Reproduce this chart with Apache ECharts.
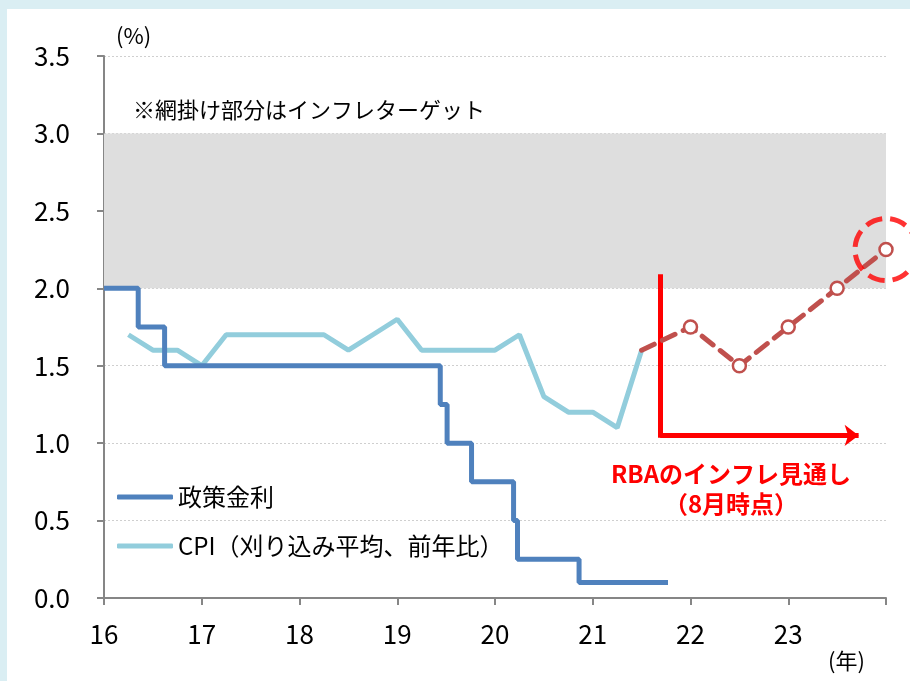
<!DOCTYPE html>
<html>
<head>
<meta charset="utf-8">
<script src="https://cdn.jsdelivr.net/npm/echarts@6/dist/echarts.min.js"></script>
<style>
  html, body { margin: 0; padding: 0; background: #daeef3; }
  #chart { width: 910px; height: 681px; }
</style>
</head>
<body>
<div id="chart"></div>
<script>
// 政策金利 (RBA cash rate) - change points, year fraction
var rateX = [16, 16.35, 16.62, 19.44, 19.51, 19.76, 20.19, 20.23, 20.86, 21.77];
var rateY = [2.0, 1.75, 1.5, 1.25, 1.0, 0.75, 0.5, 0.25, 0.1, 0.1];

// CPI trimmed mean, y/y, quarterly
var cpiX = [16.25, 16.5, 16.75, 17, 17.25, 17.5, 17.75, 18, 18.25, 18.5, 18.75, 19, 19.25, 19.5, 19.75, 20, 20.25, 20.5, 20.75, 21, 21.25, 21.5];
var cpiY = [1.7, 1.6, 1.6, 1.5, 1.7, 1.7, 1.7, 1.7, 1.7, 1.6, 1.7, 1.8, 1.6, 1.6, 1.6, 1.6, 1.7, 1.3, 1.2, 1.2, 1.1, 1.6];

// RBA forecast (Aug)
var fcX = [21.5, 22, 22.5, 23, 23.5, 24];
var fcY = [1.6, 1.75, 1.5, 1.75, 2.0, 2.25];

var targetBand = [2.0, 3.0];
var xTicks = [16, 17, 18, 19, 20, 21, 22, 23];
var arrowPts = [[21.69, 2.09], [21.69, 1.035], [21.69, 1.05], [23.72, 1.05]];

var font = '"Noto Sans CJK JP", "Noto Sans", sans-serif';

function pairs(xs, ys) {
  return xs.map(function (x, i) { return [x, ys[i]]; });
}

var fcData = pairs(fcX, fcY).map(function (p, i) {
  return i === 0 ? { value: p, symbol: 'none' } : { value: p };
});

var chart = echarts.init(document.getElementById('chart'));
chart.setOption({
  animation: false,
  textStyle: { fontFamily: font },
  grid: { left: 104, right: 24, top: 56, bottom: 83 },
  graphic: [
    { type: 'rect', z: -10, shape: { x: 7, y: 9, width: 903, height: 672 }, style: { fill: '#ffffff' } },
    { type: 'text', left: 116, top: 25, style: { text: '(%)', font: '22px ' + font, fill: '#000' } },
    { type: 'text', left: 133, top: 99, style: { text: '※網掛け部分はインフレターゲット', font: '22px ' + font, fill: '#000' } },
    { type: 'text', left: 828, top: 650, style: { text: '(年)', font: '22px ' + font, fill: '#000' } },
    { type: 'text', x: 731, y: 474, style: { text: 'RBAのインフレ見通し', font: 'bold 24px ' + font, fill: '#ff0000', align: 'center', verticalAlign: 'middle' } },
    { type: 'text', x: 731, y: 504, style: { text: '（8月時点）', font: 'bold 24px ' + font, fill: '#ff0000', align: 'center', verticalAlign: 'middle' } }
  ],
  legend: {
    orient: 'vertical',
    left: 112,
    top: 478,
    icon: 'roundRect',
    itemWidth: 56,
    itemHeight: 5,
    itemGap: 21,
    data: ['政策金利', 'CPI（刈り込み平均、前年比）'],
    textStyle: { fontSize: 24, lineHeight: 28, color: '#000', fontFamily: font }
  },
  xAxis: {
    type: 'value',
    min: 16,
    max: 24,
    interval: 1,
    axisLine: { lineStyle: { color: '#868686', width: 2 } },
    axisTick: { show: true, length: 7, lineStyle: { color: '#868686', width: 2 } },
    axisLabel: {
      margin: 23,
      fontSize: 26,
      color: '#000',
      formatter: function (v) { return xTicks.indexOf(v) >= 0 ? String(v) : ''; }
    },
    splitLine: { show: false }
  },
  yAxis: {
    type: 'value',
    min: 0,
    max: 3.5,
    interval: 0.5,
    axisLine: { show: true, lineStyle: { color: '#868686', width: 2 } },
    axisTick: { show: true, length: 7, lineStyle: { color: '#868686', width: 2 } },
    axisLabel: {
      margin: 34,
      fontSize: 26,
      color: '#000',
      formatter: function (v) { return v.toFixed(1); }
    },
    splitLine: { show: true, lineStyle: { color: '#cfcfcf', type: [2, 2], width: 1 } }
  },
  series: [
    {
      name: 'CPI（刈り込み平均、前年比）',
      type: 'line',
      data: pairs(cpiX, cpiY),
      symbol: 'none',
      color: '#92cddc',
      lineStyle: { color: '#92cddc', width: 5 },
      z: 3,
      markArea: {
        silent: true,
        itemStyle: { color: '#dedede' },
        data: [[{ yAxis: targetBand[0] }, { yAxis: targetBand[1] }]]
      }
    },
    {
      name: '政策金利',
      type: 'line',
      step: 'end',
      data: pairs(rateX, rateY),
      symbol: 'none',
      color: '#4f81bd',
      lineStyle: { color: '#4f81bd', width: 5 },
      z: 4
    },
    {
      name: '見通し',
      type: 'line',
      data: fcData,
      symbol: 'circle',
      symbolSize: 13,
      clip: false,
      itemStyle: { color: '#ffffff', borderColor: '#c0504d', borderWidth: 2.5 },
      lineStyle: { color: '#c0504d', width: 5, type: [14, 9], cap: 'round' },
      z: 5,
      markLine: {
        silent: true,
        symbol: ['none', 'none'],
        label: { show: false },
        lineStyle: { color: '#ff0000', width: 5, type: 'solid' },
        data: [
          [{ coord: arrowPts[0] }, { coord: arrowPts[1] }],
          [{ coord: arrowPts[2] }, { coord: arrowPts[3], symbol: 'arrow', symbolSize: [16, 14] }]
        ]
      }
    },
    {
      name: '強調',
      type: 'scatter',
      data: [[fcX[fcX.length - 1], fcY[fcY.length - 1]]],
      symbol: 'circle',
      symbolSize: 62,
      clip: false,
      silent: true,
      itemStyle: { color: 'transparent', borderColor: '#ff0000', borderWidth: 5, borderType: [17, 8] },
      z: 6
    }
  ]
});
</script>
</body>
</html>
